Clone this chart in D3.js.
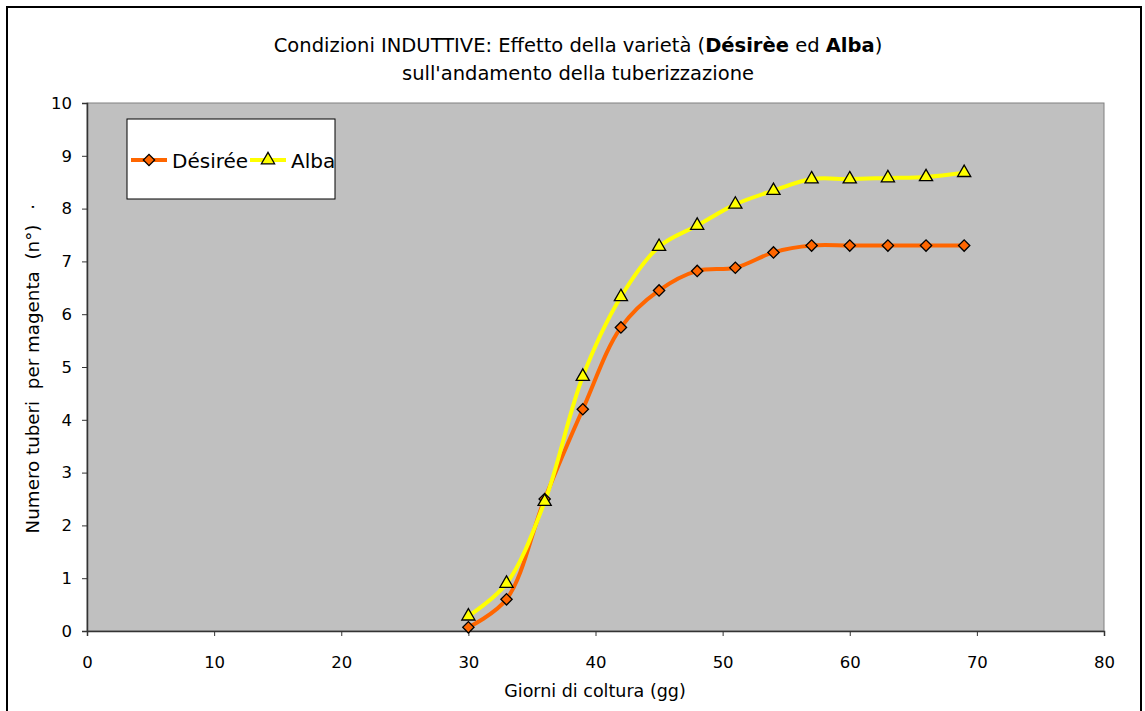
<!DOCTYPE html>
<html>
<head>
<meta charset="utf-8">
<script src="https://cdn.jsdelivr.net/npm/d3@7"></script>
<style>
  body { margin: 0; background: #fff; }
  svg text { font-family: "DejaVu Sans", Verdana, sans-serif; fill: #000; }
</style>
</head>
<body>
<svg id="chart" width="1145" height="711"></svg>
<script>
// days of culture
const days = [30, 33, 36, 39, 42, 45, 48, 51, 54, 57, 60, 63, 66, 69];
// tubers per plant
const desiree = [0.07, 0.6, 2.5, 4.2, 5.75, 6.45, 6.82, 6.88, 7.17, 7.3, 7.3, 7.3, 7.3, 7.3];
const alba = [0.28, 0.9, 2.45, 4.82, 6.33, 7.28, 7.68, 8.08, 8.34, 8.56, 8.56, 8.58, 8.6, 8.68];
const xTicks = [0, 10, 20, 30, 40, 50, 60, 70, 80];
const yTicks = [0, 1, 2, 3, 4, 5, 6, 7, 8, 9, 10];

const svg = d3.select("#chart");
const margin = { top: 103, right: 41, bottom: 80, left: 87 };
const width = 1145 - margin.left - margin.right;
const height = 711 - margin.top - margin.bottom;

// outer frame
svg.append("rect")
  .attr("x", 7).attr("y", 7)
  .attr("width", 1134).attr("height", 720)
  .attr("fill", "#fff")
  .attr("stroke", "#000")
  .attr("stroke-width", 2);

const x = d3.scaleLinear().domain([0, 80]).range([margin.left, margin.left + width]);
const y = d3.scaleLinear().domain([0, 10]).range([margin.top + height, margin.top]);

svg.append("rect")
  .attr("x", x(0)).attr("y", y(10))
  .attr("width", x(80) - x(0)).attr("height", y(0) - y(10))
  .attr("fill", "#c0c0c0")
  .attr("stroke", "#808080")
  .attr("stroke-width", 1);

const xAxis = svg.append("g")
  .attr("transform", `translate(0,${y(0)})`)
  .call(d3.axisBottom(x).tickValues(xTicks).tickSize(5).tickPadding(20));
const yAxis = svg.append("g")
  .attr("transform", `translate(${x(0)},0)`)
  .call(d3.axisLeft(y).tickValues(yTicks).tickSize(5).tickPadding(10));

[xAxis, yAxis].forEach(g => {
  g.select(".domain").attr("stroke", "#333").attr("stroke-width", 1.5);
  g.selectAll(".tick line").attr("stroke", "#333");
  g.selectAll(".tick text")
    .attr("font-size", 16.5)
    .attr("font-family", "'DejaVu Sans', Verdana, sans-serif");
});

// titles
const title = svg.append("text")
  .attr("x", 578).attr("y", 52)
  .attr("text-anchor", "middle")
  .attr("font-size", 19.5);
title.append("tspan").text("Condizioni INDUTTIVE: Effetto della varietà (");
title.append("tspan").attr("font-weight", "bold").text("Désirèe");
title.append("tspan").text(" ed ");
title.append("tspan").attr("font-weight", "bold").text("Alba");
title.append("tspan").text(")");
svg.append("text")
  .attr("x", 578).attr("y", 80)
  .attr("text-anchor", "middle")
  .attr("font-size", 19.5)
  .text("sull'andamento della tuberizzazione");

svg.append("text")
  .attr("x", 595).attr("y", 697)
  .attr("text-anchor", "middle")
  .attr("font-size", 17.5)
  .text("Giorni di coltura (gg)");

svg.append("text")
  .attr("transform", `translate(39,379) rotate(-90)`)
  .attr("text-anchor", "middle")
  .attr("font-size", 18.3)
  .attr("xml:space", "preserve")
  .text("Numero tuberi  per magenta  (n°)");
svg.append("text")
  .attr("transform", `translate(39,207) rotate(-90)`)
  .attr("text-anchor", "middle")
  .attr("font-size", 18)
  .text("·");

const line = d3.line()
  .x(d => x(d[0]))
  .y(d => y(d[1]))
  .curve(d3.curveCatmullRom.alpha(0.5));

const series = [
  { name: "Désirée", values: desiree, color: "#ff6600", symbol: d3.symbolSquare, size: 64, rot: 45 },
  { name: "Alba", values: alba, color: "#ffff00", symbol: d3.symbolTriangle, size: 75, rot: 0 }
];

series.forEach(s => {
  const pts = days.map((d, i) => [d, s.values[i]]);
  svg.append("path")
    .datum(pts)
    .attr("fill", "none")
    .attr("stroke", s.color)
    .attr("stroke-width", 4)
    .attr("d", line);
});

series.forEach(s => {
  const pts = days.map((d, i) => [d, s.values[i]]);
  svg.append("g").selectAll("path")
    .data(pts)
    .enter()
    .append("path")
    .attr("transform", d => `translate(${x(d[0])},${y(d[1])}) rotate(${s.rot})`)
    .attr("d", d3.symbol().type(s.symbol).size(s.size))
    .attr("fill", s.color)
    .attr("stroke", "#000")
    .attr("stroke-width", 1.3);
});

// legend
const legend = svg.append("g");
legend.append("rect")
  .attr("x", 127).attr("y", 119)
  .attr("width", 208).attr("height", 80)
  .attr("fill", "#fff")
  .attr("stroke", "#000");

const legendItems = [
  { s: series[0], lx: 131, tx: 172 },
  { s: series[1], lx: 250, tx: 291 }
];
legendItems.forEach(item => {
  legend.append("line")
    .attr("x1", item.lx).attr("x2", item.lx + 36)
    .attr("y1", 160).attr("y2", 160)
    .attr("stroke", item.s.color)
    .attr("stroke-width", 4);
  legend.append("path")
    .attr("transform", `translate(${item.lx + 18},160) rotate(${item.s.rot})`)
    .attr("d", d3.symbol().type(item.s.symbol).size(item.s.size))
    .attr("fill", item.s.color)
    .attr("stroke", "#000")
    .attr("stroke-width", 1.3);
  legend.append("text")
    .attr("x", item.tx).attr("y", 168)
    .attr("font-size", 20)
    .text(item.s.name);
});
</script>
</body>
</html>
